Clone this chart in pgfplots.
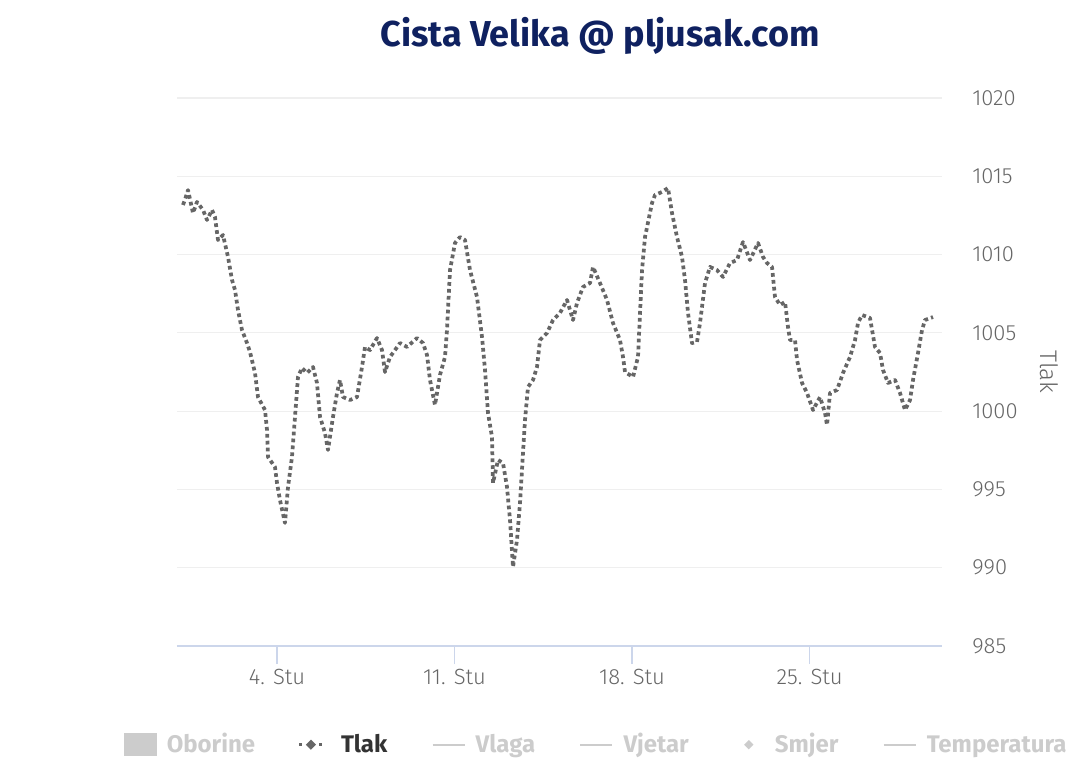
\documentclass[border=0pt]{standalone}
\usepackage{pgfplots}
\pgfplotsset{compat=1.18}
\usepackage{fontspec}
\setmainfont{Fira Sans}
\newfontfamily\lightfont{Fira Sans Light}
\definecolor{titlec}{HTML}{0F2160}
\definecolor{tickc}{HTML}{666666}
\definecolor{gridc}{HTML}{EFEFEF}
\definecolor{axisc}{HTML}{CCD6EB}
\definecolor{tlakc}{HTML}{666666}
\definecolor{legoff}{HTML}{CCCCCC}
\definecolor{legon}{HTML}{333333}
\begin{document}
\begin{tikzpicture}
\begin{axis}[
  scale only axis,
  width=573.75pt, height=411pt,
  xmin=0.057, xmax=30.222,
  ymin=985, ymax=1020,
  ytick={985,990,...,1020},
  xtick={4,11,18,25},
  xticklabels={4. Stu,11. Stu,18. Stu,25. Stu},
  axis x line=bottom,
  axis y line=right,
  x axis line style={draw=axisc, line width=1pt, -},
  y axis line style={draw=none},
  ymajorgrids,
  grid style={draw=gridc, line width=0.9pt},
  xtick style={draw=axisc, line width=1pt},
  ytick style={draw=none},
  tick align=outside,
  major tick length=13.5pt,
  /pgf/number format/assume math mode=true,
  /pgf/number format/1000 sep={},
  ticklabel style={font=\lightfont\fontsize{16.5}{18}\selectfont, text=tickc},
  yticklabel style={anchor=west, inner sep=0pt, xshift=9pt},
  xticklabel style={anchor=base, inner sep=0pt, yshift=-15.5pt},
  ylabel={Tlak},
  ylabel style={at={(axis description cs:1.140,0.5)}, rotate=180, anchor=center, font=\lightfont\fontsize{18}{20}\selectfont, text=tickc},
  title={Cista Velika @ pljusak.com},
  title style={at={(axis description cs:0.5529,1.0785)}, anchor=base, inner sep=0pt, font=\bfseries\fontsize{27}{30}\selectfont, text=titlec},
  legend columns=6,
  legend style={at={(axis description cs:-0.0693,-0.180)}, anchor=west, draw=none, fill=none, inner sep=0pt,
    nodes={inner sep=0pt, anchor=base west},
    font=\bfseries\fontsize{18}{20}\selectfont,
    /tikz/every odd column/.append style={column sep=7.5pt},
    /tikz/every even column/.append style={column sep=33pt}},
  legend cell align=left,
  clip=false,
]
\addlegendimage{legend image code/.code={
  \fill[legoff] (0pt,-2.25pt) rectangle (24pt,14.25pt);}}
\addlegendentry{\textcolor{legoff}{Oborine}}
\addplot[tlakc, line width=2.8pt, dash pattern=on 2.8pt off 2.4pt, line join=round,
  legend image code/.code={
    \path[draw=none,fill=none] (0pt,6pt) rectangle (24pt,6pt);
    \fill[tlakc, draw=none] (0pt,4.8pt) rectangle (2.4pt,7.2pt);
    \fill[tlakc, draw=none] (15pt,4.8pt) rectangle (17.4pt,7.2pt);
    \fill[tlakc, draw=none] (5.0pt,6pt) -- ++(3.8pt,3.8pt) -- ++(3.8pt,-3.8pt) -- ++(-3.8pt,-3.8pt) -- cycle;}]
coordinates {
(0.293,1013.17)(0.37,1013.5)(0.491,1014.12)(0.688,1012.65)(0.845,1013.36)(1.082,1012.85)
(1.240,1012.21)(1.437,1012.85)(1.555,1012.40)(1.673,1010.93)(1.871,1011.25)(2.068,1009.85)
(2.226,1008.38)(2.344,1007.74)(2.462,1006.46)(2.620,1005.18)(2.817,1004.35)(2.935,1003.78)
(3.133,1002.44)(3.251,1000.90)(3.527,1000.07)(3.606,998.80)(3.645,997.07)(3.921,996.43)
(4.000,995.41)(4.118,994.32)(4.315,992.86)(4.434,995.15)(4.591,997.07)(4.710,999.63)
(4.828,1002.18)(4.986,1002.76)(5.183,1002.44)(5.420,1002.82)(5.577,1001.80)(5.696,999.63)
(5.893,998.60)(6.011,997.52)(6.208,999.63)(6.366,1001.16)(6.484,1001.99)(6.603,1000.90)
(6.879,1000.71)(7.155,1000.90)(7.352,1002.82)(7.470,1004.10)(7.667,1003.90)(7.943,1004.67)
(8.140,1003.90)(8.259,1002.50)(8.456,1003.46)(8.653,1003.90)(8.850,1004.35)(9.126,1004.10)
(9.521,1004.67)(9.757,1004.35)(9.915,1003.59)(10.033,1001.99)(10.230,1000.39)(10.427,1002.31)
(10.625,1003.46)(10.703,1005.18)(10.822,1009.01)(11.019,1010.74)(11.216,1011.12)(11.413,1010.93)
(11.610,1009.01)(11.886,1007.29)(12.084,1004.74)(12.202,1002.63)(12.320,999.88)(12.478,998.35)
(12.517,995.41)(12.715,996.88)(12.912,996.69)(13.069,995.15)(13.188,993.05)(13.306,990.05)
(13.464,991.77)(13.582,994.13)(13.700,997.33)(13.779,999.43)(13.897,1001.54)(14.095,1001.99)
(14.252,1002.82)(14.371,1004.54)(14.647,1004.99)(14.883,1005.82)(15.159,1006.27)(15.435,1007.10)
(15.672,1005.82)(15.830,1006.91)(16.066,1007.93)(16.342,1008.18)(16.461,1009.21)(16.737,1008.18)
(17.013,1007.10)(17.249,1005.63)(17.525,1004.54)(17.644,1003.46)(17.722,1002.50)(18.038,1002.18)
(18.235,1003.46)(18.393,1009.01)(18.511,1011.12)(18.787,1013.29)(18.905,1013.80)(19.181,1014.00)
(19.418,1014.25)(19.576,1012.65)(19.773,1011.12)(19.970,1009.85)(20.088,1008.38)(20.207,1006.27)
(20.364,1004.35)(20.562,1004.42)(20.680,1005.63)(20.877,1008.18)(21.074,1009.21)(21.350,1009.01)
(21.587,1008.57)(21.863,1009.46)(22.139,1009.65)(22.375,1010.80)(22.651,1009.65)(22.967,1010.74)
(23.164,1009.85)(23.322,1009.46)(23.519,1009.21)(23.637,1007.29)(23.834,1006.78)(24.032,1006.97)
(24.150,1005.37)(24.229,1004.54)(24.426,1004.54)(24.505,1003.27)(24.703,1001.80)(24.900,1001.16)
(25.136,1000.07)(25.412,1000.90)(25.609,999.88)(25.688,999.11)(25.806,1001.16)(26.082,1001.35)
(26.319,1002.44)(26.595,1003.46)(26.792,1004.54)(26.910,1005.63)(27.068,1006.14)(27.383,1005.95)
(27.580,1004.10)(27.778,1003.71)(27.896,1002.63)(28.093,1001.80)(28.369,1001.99)(28.566,1001.16)
(28.763,1000.07)(28.961,1000.71)(29.079,1001.99)(29.276,1003.71)(29.434,1005.18)(29.552,1005.82)
(29.868,1006.01)
};
\addlegendentry{\textcolor{legon}{Tlak}}
\addlegendimage{legend image code/.code={
  \draw[legoff, line width=1.8pt, solid] (0pt,6pt) -- (24pt,6pt);}}
\addlegendentry{\textcolor{legoff}{Vlaga}}
\addlegendimage{legend image code/.code={
  \draw[legoff, line width=1.8pt, solid] (0pt,6pt) -- (24pt,6pt);}}
\addlegendentry{\textcolor{legoff}{Vjetar}}
\addlegendimage{legend image code/.code={
  \path[draw=none,fill=none] (0pt,6pt) rectangle (24pt,6pt);
  \fill[legoff, draw=none] (8.5pt,6pt) -- ++(3.5pt,3.5pt) -- ++(3.5pt,-3.5pt) -- ++(-3.5pt,-3.5pt) -- cycle;}}
\addlegendentry{\textcolor{legoff}{Smjer}}
\addlegendimage{legend image code/.code={
  \draw[legoff, line width=1.8pt, solid] (0pt,6pt) -- (24pt,6pt);}}
\addlegendentry{\textcolor{legoff}{Temperatura}}
\coordinate (sw) at (rel axis cs:0,0);
\coordinate (ne) at (rel axis cs:1,1);
\end{axis}
\pgfresetboundingbox
\path ([shift={(-132.75pt,-96pt)}]sw) rectangle ([shift={(103.5pt,73.5pt)}]ne);
\end{tikzpicture}
\end{document}
